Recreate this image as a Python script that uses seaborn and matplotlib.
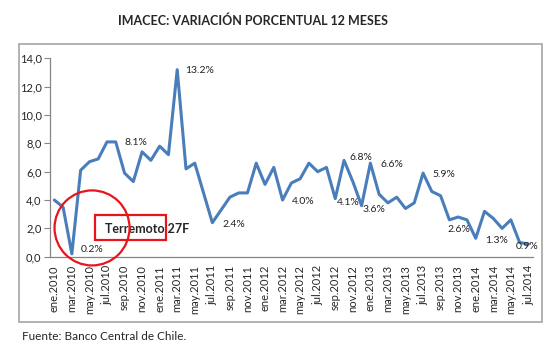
import matplotlib

matplotlib.use("Agg")

import matplotlib.pyplot as plt
import matplotlib.patches as patches
import numpy as np
import pandas as pd
import seaborn as sns


# IMACEC, variación porcentual 12 meses (ene.2010 - jul.2014)
imacec_2010 = [4.0, 3.5, 0.2, 6.1, 6.7, 6.9, 8.1, 8.1, 5.9, 5.3, 7.4, 6.8]
imacec_2011 = [7.8, 7.2, 13.2, 6.2, 6.6, 4.5, 2.4, 3.3, 4.2, 4.5, 4.5, 6.6]
imacec_2012 = [5.1, 6.3, 4.0, 5.2, 5.5, 6.6, 6.0, 6.3, 4.1, 6.8, 5.3, 3.6]
imacec_2013 = [6.6, 4.4, 3.8, 4.2, 3.4, 3.8, 5.9, 4.6, 4.3, 2.6, 2.8, 2.6]
imacec_2014 = [1.3, 3.2, 2.7, 2.0, 2.6, 1.0, 0.9]

tick_labels = [
    "ene.2010", "mar.2010", "may.2010", "jul.2010", "sep.2010", "nov.2010",
    "ene.2011", "mar.2011", "may.2011", "jul.2011", "sep.2011", "nov.2011",
    "ene.2012", "mar.2012", "may.2012", "jul.2012", "sep.2012", "nov.2012",
    "ene.2013", "mar.2013", "may.2013", "jul.2013", "sep.2013", "nov.2013",
    "ene.2014", "mar.2014", "may.2014", "jul.2014",
]

# labelled months (index) and label offsets in pixels
label_months = [2, 7, 14, 18, 26, 32, 33, 35, 36, 42, 45, 48, 54]
label_offsets = [
    (9, 4), (9, -1), (8, -1), (10, -2), (9, -1), (2, -4), (5, 3),
    (1, -4), (10, -1), (9, -1), (-2, -10), (9, -2), (-13, -3),
]

values = imacec_2010 + imacec_2011 + imacec_2012 + imacec_2013 + imacec_2014

data = pd.DataFrame(
    {
        "mes": np.arange(len(values)),
        "imacec": values,
    }
)

sns.set_style("white")
plt.rcParams["font.family"] = ["Lato", "DejaVu Sans"]

W, H = 560, 356
figure = plt.figure(figsize=(W / 100, H / 100), dpi=100)

# plot area in pixels
left, right, top, bottom = 49.9, 532.8, 58.3, 256.7
axis = figure.add_axes(
    [left / W, 1 - bottom / H, (right - left) / W, (bottom - top) / H]
)

sns.lineplot(
    data=data,
    x="mes",
    y="imacec",
    color="#4A7EBB",
    linewidth=2.2,
    ax=axis,
)

axis.set_xlim(-0.5, len(values) - 0.5)
axis.set_ylim(0, 14)

axis.set_yticks(np.arange(0, 15, 2))
axis.set_yticklabels(
    [f"{v:.1f}".replace(".", ",") for v in np.arange(0, 15, 2)],
    fontsize=8,
)

axis.set_xticks(np.arange(0, len(values), 2))
axis.set_xticklabels(tick_labels, rotation=90, fontsize=8)
axis.set_xticks(np.arange(-0.5, len(values), 2), minor=True)

axis.tick_params(axis="x", which="major", length=0, pad=6)
axis.tick_params(axis="x", which="minor", length=4, color="#868686")
axis.tick_params(axis="y", length=4, pad=2, color="#868686", left=True)

axis.set_xlabel("")
axis.set_ylabel("")

for side in ["top", "right"]:
    axis.spines[side].set_visible(False)

for side in ["left", "bottom"]:
    axis.spines[side].set_color("#868686")
    axis.spines[side].set_linewidth(0.9)

for month, (dx, dy) in zip(label_months, label_offsets):
    axis.annotate(
        f"{values[month]:.1f}%",
        xy=(month, values[month]),
        xytext=(dx, dy),
        textcoords="offset pixels",
        ha="left",
        va="center",
        fontsize=7.5,
        color="#222222",
    )

# Terremoto 27F annotation
axis.text(
    5.72,
    1.95,
    "Terremoto 27F",
    fontsize=9,
    fontweight="bold",
    va="center",
    ha="left",
    zorder=4,
)

axis.add_patch(
    patches.Rectangle(
        (4.69, 1.18),
        8.03,
        1.76,
        fill=False,
        edgecolor="#E8141B",
        linewidth=1.6,
        zorder=5,
        clip_on=False,
    )
)

axis.add_patch(
    patches.Ellipse(
        (4.3, 2.03),
        2 * 37.5 / 8.78,
        2 * 37.5 / 14.17,
        fill=False,
        edgecolor="#E8141B",
        linewidth=1.6,
        zorder=6,
        clip_on=False,
    )
)

# chart frame
figure.add_artist(
    patches.Rectangle(
        (19 / W, 1 - 322 / H),
        (542 - 19) / W,
        (322 - 44) / H,
        transform=figure.transFigure,
        fill=False,
        edgecolor="#A6A6A6",
        linewidth=1.2,
    )
)

figure.text(
    253 / W,
    1 - 21 / H,
    "IMACEC: VARIACIÓN PORCENTUAL 12 MESES",
    ha="center",
    va="center",
    fontsize=9,
    fontweight="bold",
)

figure.text(
    22 / W,
    1 - 337 / H,
    "Fuente: Banco Central de Chile.",
    ha="left",
    va="center",
    fontsize=8.5,
)

figure.savefig("out.png", dpi=100)
plt.close()
